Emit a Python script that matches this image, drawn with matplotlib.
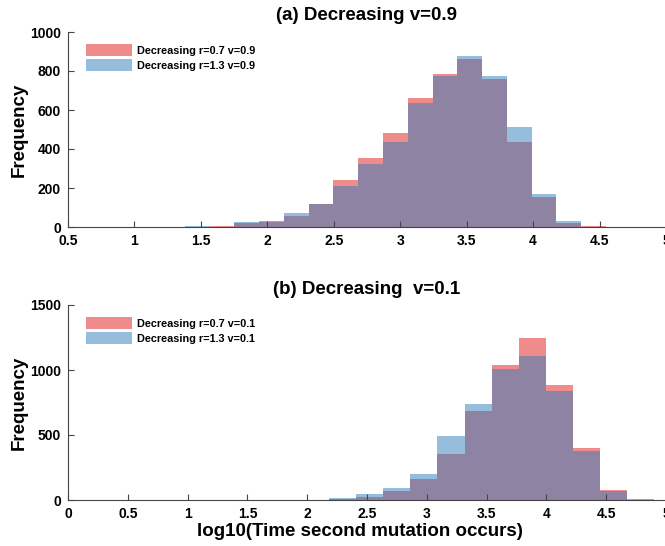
import matplotlib.pyplot as plt
import numpy as np

plt.rcParams['font.family'] = ['Liberation Sans', 'DejaVu Sans']
plt.rcParams['font.weight'] = 'bold'

# (a) v=0.9 : shared bin edges and counts per bin
edges_a = 1.377 + 0.1866 * np.arange(18)
red_a = [0, 3, 21, 30, 57, 116, 240, 356, 483, 661, 784, 861, 760, 435, 154, 21, 4]
blue_a = [4, 1, 26, 27, 70, 116, 211, 325, 435, 635, 774, 877, 772, 514, 168, 29, 0]
labels_a = ['Decreasing r=0.7 v=0.9', 'Decreasing r=1.3 v=0.9']

# (b) v=0.1
edges_b = 1.956 + 0.2266 * np.arange(14)
red_b = [3, 8, 21, 72, 164, 357, 681, 1037, 1248, 886, 400, 77, 5]
blue_b = [0, 12, 46, 92, 203, 490, 737, 1007, 1104, 835, 375, 67, 0]
labels_b = ['Decreasing r=0.7 v=0.1', 'Decreasing r=1.3 v=0.1']

red = '#e11919'
blue = '#2f7dbb'

fig = plt.figure(figsize=(6.65, 5.46), dpi=100)
ax1 = fig.add_axes([68 / 665, 1 - 227 / 546, 598 / 665, 195 / 546])
ax2 = fig.add_axes([68 / 665, 1 - 500 / 546, 598 / 665, 195 / 546])


def draw(ax, edges, r, b, labels):
    w = np.diff(edges)
    ax.bar(edges[:-1], r, width=w, align='edge', color=red, alpha=0.5,
           linewidth=0, label=labels[0])
    ax.bar(edges[:-1], b, width=w, align='edge', color=blue, alpha=0.5,
           linewidth=0, label=labels[1])
    for s in ['top', 'right']:
        ax.spines[s].set_visible(False)
    for s in ['left', 'bottom']:
        ax.spines[s].set_color('#444444')
        ax.spines[s].set_linewidth(0.8)
    ax.tick_params(direction='in', length=4, width=0.8, labelsize=10, color='#444444', pad=5)
    ax.set_ylabel('Frequency', fontsize=13.5, fontweight='bold')
    ax.yaxis.set_label_coords(-0.068, 0.5)
    ax.legend(loc='upper left', frameon=False, fontsize=7.8, handlelength=4.2,
              handleheight=1.3, borderaxespad=0.2, labelspacing=0.3, handletextpad=0.5,
              bbox_to_anchor=(0.02, 0.97))


draw(ax1, edges_a, red_a, blue_a, labels_a)
ax1.set_xlim(0.5, 5)
ax1.set_ylim(0, 1000)
ax1.set_xticks(np.arange(0.5, 5.01, 0.5))
ax1.set_xticklabels(['0.5', '1', '1.5', '2', '2.5', '3', '3.5', '4', '4.5', '5'])
ax1.set_yticks(np.arange(0, 1001, 200))
ax1.set_title('(a) Decreasing v=0.9', fontsize=13.5, fontweight='bold', pad=9)

draw(ax2, edges_b, red_b, blue_b, labels_b)
ax2.set_xlim(0, 5)
ax2.set_ylim(0, 1500)
ax2.set_xticks(np.arange(0, 5.01, 0.5))
ax2.set_xticklabels(['0', '0.5', '1', '1.5', '2', '2.5', '3', '3.5', '4', '4.5', '5'])
ax2.set_yticks([0, 500, 1000, 1500])
ax2.set_title('(b) Decreasing  v=0.1', fontsize=13.5, fontweight='bold', pad=8)
ax2.set_xlabel('log10(Time second mutation occurs)', fontsize=13.5, fontweight='bold')
ax2.xaxis.set_label_coords(0.488, -0.12)

fig.savefig('out.png', dpi=100)
